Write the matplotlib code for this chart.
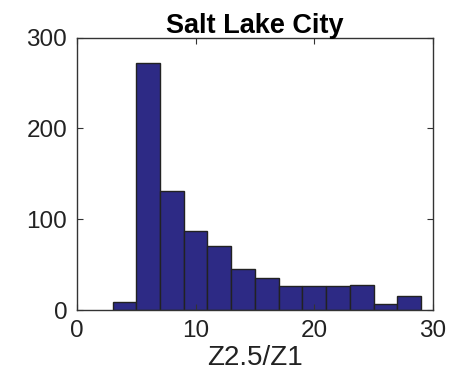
import matplotlib
matplotlib.use("Agg")
import matplotlib.pyplot as plt
import numpy as np

plt.rcParams['font.family'] = ['Liberation Sans', 'DejaVu Sans']

bin_edges = [3, 5, 7, 9, 11, 13, 15, 17, 19, 21, 23, 25, 27, 29]
counts = [9, 272, 131, 87, 71, 45, 35, 26, 27, 26, 28, 7, 16]
xticks = [0, 10, 20, 30]
yticks = [0, 100, 200, 300]
title = "Salt Lake City"
xlabel = "Z2.5/Z1"

fig = plt.figure(figsize=(4.5, 3.75), dpi=100)
ax = fig.add_axes([0.171, 0.173, 0.791, 0.727])

ax.hist(bin_edges[:-1], bins=bin_edges, weights=counts,
        color='#2d2a85', edgecolor='#222222', linewidth=1.0)

ax.set_xlim(0, 30)
ax.set_ylim(0, 300)
ax.set_xticks(xticks)
ax.set_yticks(yticks)
ax.tick_params(direction='in', top=True, right=True, labelsize=17.5,
               length=4, width=0.8, colors='#333333', labelcolor='#222222', pad=7)
for s in ax.spines.values():
    s.set_color('#333333')
    s.set_linewidth(1.0)
ax.set_title(title, fontsize=19.5, fontweight='bold', pad=3)
ax.set_xlabel(xlabel, fontsize=20, labelpad=2, color='#222222')

fig.savefig("out.png", dpi=100)
